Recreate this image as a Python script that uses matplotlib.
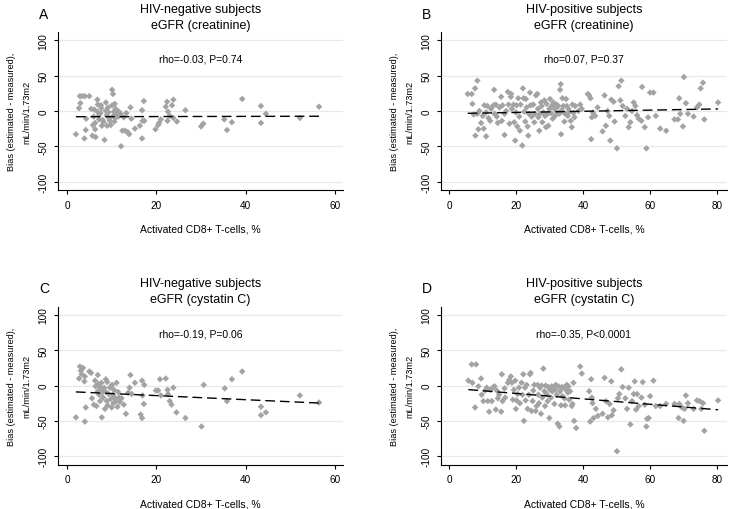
import numpy as np
import matplotlib
matplotlib.use("Agg")
import matplotlib.pyplot as plt

plt.rcParams['font.family'] = ['Liberation Sans', 'DejaVu Sans']

# panel A: HIV-negative, eGFR (creatinine)
a_x = [2.0, 2.7, 3.0, 2.9, 3.4, 4.0, 5.0, 3.9, 4.2, 4.3, 5.4, 5.7, 6.1, 6.3, 6.3, 6.4,
       6.8, 6.8, 6.9, 7.1, 7.5, 7.6, 7.7, 7.8, 8.0, 8.4, 8.7, 8.7, 8.9, 9.0, 9.2, 9.5,
       9.8, 10.1, 10.1, 10.3, 10.4, 10.5, 10.6, 10.7, 10.9, 11.0, 11.3, 11.5, 11.6, 11.8,
       12.1, 12.4, 12.7, 13.0, 13.3, 13.6, 13.9, 14.2, 14.4, 15.2, 16.3, 16.8, 16.8, 16.9,
       17.2, 17.3, 19.8, 20.4, 20.6, 21.0, 22.1, 22.4, 22.6, 22.5, 23.0, 23.5, 23.8, 23.8,
       24.6, 26.5, 30.0, 30.5, 35.2, 35.8, 36.9, 39.2, 43.4, 43.4, 44.5, 52.1, 56.4,
       6.0, 7.2, 8.2, 9.3, 10.8, 5.8, 12.0, 9.6]
a_y = [-33, 4, 11, 21, 21, 21, 21, -39, -27, -11, 3, -35, 2, -17, -26, -37,
       16, -1, 9, -7, -3, 8, 4, -21, -13, -41, 12, 0, -6, -21, 5, -11,
       -20, 30, 8, 24, -7, -1, -15, 10, 3, -6, -3, -8, -1, -5,
       -50, -28, -9, -28, -3, -30, -33, 5, -11, -25, -21, -39, 1, -14,
       14, -14, -26, -20, -17, -12, 6, 13, -1, -14, -7, 8, 16, -10,
       -15, 1, -22, -18, -12, -27, -16, 17, 7, -17, -4, -10, 6,
       -8, -12, -16, -2, -10, -20, -4, -14]

# panel B: HIV-positive, eGFR (creatinine)
b_x = [5.5, 6.7, 6.9, 7.7, 8.4, 7.3, 7.8, 8.4, 8.7, 9.0, 9.5, 10.0, 10.3, 10.5, 11.0, 11.0,
       11.4, 11.7, 12.2, 12.5, 13.2, 13.4, 13.5, 13.9, 14.2, 14.5, 15.0, 15.5, 15.7, 15.9,
       16.5, 16.5, 17.0, 17.5, 17.7, 18.0, 18.4, 18.5, 18.7, 19.2, 19.4, 19.7, 19.9, 20.1,
       20.3, 20.6, 20.9, 21.1, 21.3, 21.8, 22.0, 22.2, 22.4, 22.7, 22.9, 23.1, 23.4, 23.6,
       23.8, 24.1, 24.3, 24.6, 25.1, 25.4, 25.6, 25.9, 26.3, 26.5, 26.6, 26.9, 27.1, 27.4,
       27.6, 27.8, 28.1, 28.4, 28.6, 28.9, 29.1, 29.4, 29.6, 29.9, 30.1, 30.4, 30.6, 30.9,
       31.1, 31.4, 31.6, 31.9, 32.1, 32.4, 32.6, 32.9, 33.1, 33.3, 33.4, 33.6, 33.8, 34.1,
       34.4, 34.6, 34.9, 35.1, 35.4, 35.6, 35.9, 36.3, 36.6, 36.8, 37.1, 37.4, 37.6, 38.6,
       39.1, 39.6, 41.4, 41.8, 42.2, 42.4, 42.6, 42.9, 43.6, 44.3, 45.8, 46.4, 46.8, 47.3,
       47.8, 48.1, 48.4, 49.1, 49.4, 50.1, 50.6, 51.1, 51.4, 51.8, 52.6, 53.1, 53.6, 54.1,
       54.6, 55.1, 55.6, 56.1, 56.6, 57.4, 57.6, 58.4, 58.9, 59.4, 60.0, 61.0, 61.7, 63.0,
       64.8, 67.3, 68.3, 68.7, 69.0, 69.8, 70.1, 70.7, 71.3, 73.0, 74.0, 74.7, 75.1, 75.8,
       76.2, 80.3]
b_y = [24, 24, 10, 32, 43, -5, -35, -4, -26, 0, -17, -7, -25, 8, -2, -36,
       7, -10, -14, 3, 8, 30, -4, 9, -8, -17, 5, 20, -14, 8,
       -4, -34, 0, 27, 9, -18, 20, 24, 3, 9, -16, -42, -2, 8,
       -22, 18, -8, -28, 9, -49, 32, 18, -1, -15, 17, 5, -22, -35,
       -4, 26, 8, -8, 9, -16, -4, 22, 24, 3, -9, -28, -4, 12,
       7, -16, -2, 15, -7, -23, 10, -4, -21, 3, 17, -3, 7, -11,
       12, 3, -7, 5, 9, -2, 7, -4, 30, 38, -33, 1, 18, 7,
       -15, -4, 17, 7, -7, 3, -1, -14, -23, 9, -3, -9, 7, 0,
       9, 3, 24, 22, 18, -40, -9, -2, -7, 5, -29, 22, -21, 0,
       -7, -42, 16, 13, -15, -53, 35, 15, 43, 7, -7, 3, -23, -16,
       0, 12, 7, -6, -11, -14, 34, -23, -53, -9, 26, 26, -7, -25,
       -28, -12, -12, 18, -4, -22, 48, 11, -4, -8, 5, 9, 32, 40,
       -12, 12]

# panel C: HIV-negative, eGFR (cystatin C)
c_x = [2.0, 2.9, 3.1, 2.7, 3.3, 3.6, 3.9, 4.0, 4.0, 4.2, 5.0, 5.4, 5.6, 6.0, 6.3, 6.4,
       6.6, 6.9, 6.9, 7.0, 7.2, 7.4, 7.5, 7.7, 7.8, 8.0, 8.1, 8.3, 8.5, 8.7, 8.7, 8.9,
       9.0, 9.1, 9.3, 9.6, 9.8, 10.0, 10.1, 10.3, 10.4, 10.5, 10.7, 11.0, 11.1, 11.3,
       11.4, 11.6, 11.8, 12.2, 12.7, 13.2, 13.7, 14.0, 14.2, 14.5, 15.2, 16.5, 16.8, 16.8,
       16.9, 17.2, 17.3, 19.9, 20.4, 20.8, 21.0, 22.1, 22.5, 22.6, 23.0, 23.4, 23.8, 24.5,
       26.5, 30.1, 30.6, 35.3, 35.8, 36.9, 39.2, 43.4, 43.4, 44.5, 52.1, 56.4]
c_y = [-45, 27, 21, 10, 16, 25, 6, 13, -51, -31, 20, 18, -18, -27, 7, -1,
       -29, 15, -8, 2, -13, -22, -3, 4, -45, -9, -17, -3, -33, 9, -9, -22,
       5, -28, -12, -3, -19, -31, 1, -13, -25, -6, -17, -22, 4, -30,
       -9, -17, -23, -18, -27, -40, -10, -3, 15, -12, 4, -41, -46, 7,
       -14, -26, 1, -7, -7, 9, -14, 10, -6, -12, -22, -27, -3, -38,
       -46, -58, 1, -4, -22, 9, 20, -30, -42, -38, -14, -24]

# panel D: HIV-positive, eGFR (cystatin C)
d_x = [5.7, 6.7, 6.9, 8.0, 7.7, 8.7, 9.5, 9.7, 10.2, 10.7, 11.2, 11.5, 11.9, 12.3, 12.7, 13.2,
       13.5, 13.9, 14.2, 14.5, 14.9, 15.5, 15.7, 15.9, 16.5, 16.7, 17.5, 17.9, 18.4, 18.7,
       19.0, 19.3, 19.7, 19.9, 20.1, 20.4, 20.8, 21.1, 21.6, 21.9, 22.1, 22.3, 22.6, 22.8,
       23.1, 23.4, 23.8, 24.1, 24.3, 24.6, 24.9, 25.1, 25.4, 25.8, 26.1, 26.4, 26.6, 26.8,
       27.1, 27.4, 27.6, 27.8, 28.1, 28.4, 28.6, 28.8, 29.1, 29.4, 29.6, 29.9, 30.1, 30.4,
       30.6, 30.8, 31.1, 31.4, 31.6, 31.8, 32.1, 32.4, 32.6, 32.9, 33.1, 33.4, 33.6, 33.8,
       34.1, 34.4, 34.6, 34.9, 35.1, 35.4, 35.6, 35.8, 36.1, 36.6, 36.8, 37.1, 37.3, 37.9,
       39.1, 39.6, 41.8, 42.1, 42.4, 42.6, 42.8, 43.1, 43.8, 44.4, 45.8, 46.4, 46.8, 47.4,
       47.9, 48.4, 48.6, 49.1, 50.1, 50.4, 50.8, 51.4, 51.8, 52.6, 53.1, 53.6, 54.1, 54.6,
       55.1, 55.4, 55.8, 56.1, 56.6, 57.4, 57.8, 58.4, 58.9, 59.1, 59.6, 60.0, 61.0, 61.7,
       63.0, 64.8, 67.3, 68.5, 68.7, 69.5, 70.0, 70.3, 70.7, 71.3, 73.0, 74.0, 74.8, 75.3,
       75.8, 76.2, 80.3]
d_y = [7, 30, 4, 30, -31, -1, 10, -13, -22, -7, -3, -22, -37, -6, -22, -2,
       -1, -34, -7, -18, -13, -37, 16, -22, -4, -17, 4, 8, 13, 4,
       -20, -6, 7, -33, -21, -12, -3, -25, 4, -13, 16, -50, -3, -21,
       1, -33, -13, 16, 18, -36, -22, -7, 1, -36, -29, 1, -13, -25,
       -3, -40, 0, -17, 24, -8, -29, 0, -12, -22, -2, -46, -6, -17,
       -1, -8, -2, -26, -6, 1, -13, -54, -1, -58, -8, -28, -2, -15,
       -3, -18, -28, -6, 1, -10, -1, -20, -8, -29, -26, 4, -50, -60,
       27, 17, -8, -51, 9, -17, -25, -46, -33, -43, -40, 11, -22, -45,
       -26, 6, -42, -35, -93, -18, -12, 23, -2, -18, -33, -3, -55, -22,
       -12, 6, -34, -12, -29, -17, 5, -27, -58, -47, -46, -15, 7, -29,
       -29, -26, -26, -46, -26, -31, -50, -33, -14, -25, -33, -21, -22, -33,
       -25, -64, -21]

# fitted lines: intercept, slope
fits = [(-8.2, 0.012), (-3.8, 0.083), (-8.4, -0.29), (-3.5, -0.383)]
rho_text = ["rho=-0.03, P=0.74", "rho=0.07, P=0.37", "rho=-0.19, P=0.06", "rho=-0.35, P<0.0001"]
titles = ["HIV-negative subjects\neGFR (creatinine)", "HIV-positive subjects\neGFR (creatinine)",
          "HIV-negative subjects\neGFR (cystatin C)", "HIV-positive subjects\neGFR (cystatin C)"]
letters = ["A", "B", "C", "D"]
xticks = [[0, 20, 40, 60], [0, 20, 40, 60, 80], [0, 20, 40, 60], [0, 20, 40, 60, 80]]
xlims = [(-2, 61.7), (-2.5, 83), (-2, 61.7), (-2.5, 83)]
yticks = [-100, -50, 0, 50, 100]
xs = [a_x, b_x, c_x, d_x]
ys = [a_y, b_y, c_y, d_y]

fig = plt.figure(figsize=(7.3, 5.1), dpi=100)
rects = [[0.0795, 0.6255, 0.390, 0.31], [0.604, 0.6255, 0.392, 0.31],
         [0.0795, 0.087, 0.390, 0.31], [0.604, 0.087, 0.392, 0.31]]

for i in range(4):
    ax = fig.add_axes(rects[i])
    x = np.array(xs[i])
    y = np.array(ys[i])
    for t in yticks:
        ax.axhline(t, color='#e8e8e8', lw=0.9, zorder=0)
    ax.scatter(x, y, marker='D', s=11, color='#a3a3a3', edgecolors='none', zorder=2)
    b0, b1 = fits[i]
    lx = np.array([x.min(), x.max()])
    ax.plot(lx, b0 + b1 * lx, color='black', lw=1.0, dashes=(7, 3.5), zorder=3)
    ax.set_xlim(*xlims[i])
    ax.set_ylim(-112, 112)
    ax.set_xticks(xticks[i])
    ax.set_yticks(yticks)
    ax.set_yticklabels([str(t) for t in yticks], rotation=90, va='center')
    ax.tick_params(labelsize=7.2, length=3, width=0.8, direction='out', color='black', pad=4)
    for s in ['top', 'right']:
        ax.spines[s].set_visible(False)
    for s in ['left', 'bottom']:
        ax.spines[s].set_linewidth(0.8)
    ax.set_xlabel("Activated CD8+ T-cells, %", fontsize=7.5, labelpad=10)
    ax.set_ylabel("Bias (estimated - measured),\nmL/min/1.73m2", fontsize=6.6,
                  labelpad=5, linespacing=1.9)
    ax.text(0.5, 74, rho_text[i], transform=ax.get_yaxis_transform(), ha='center', va='center', fontsize=7.5)
    ax.set_title(titles[i], fontsize=9, pad=3, linespacing=1.45)
    ax.text(-0.05, 1.07, letters[i], transform=ax.transAxes, fontsize=10, ha='center', va='bottom')

fig.savefig("out.png", dpi=100)
